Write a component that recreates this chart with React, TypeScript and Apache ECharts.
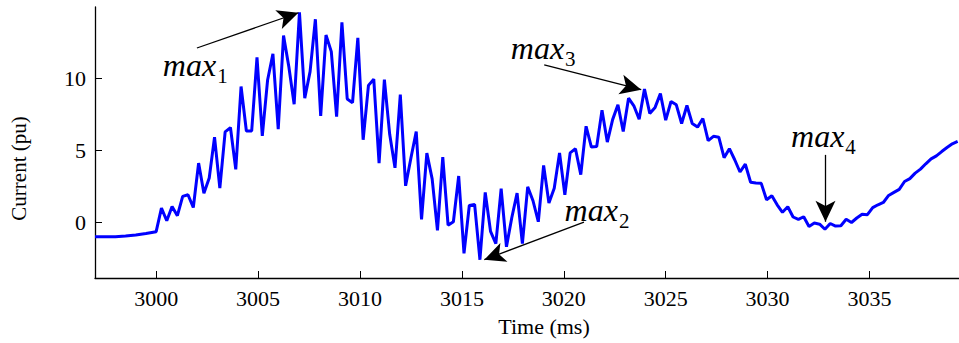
import React, { useEffect, useRef } from "react";
import * as echarts from "echarts";

// Sampling: 64 samples per 60 Hz cycle
const T0 = 3000;
const SAMPLE_MS = 1000 / 3840;

const preTimes = [2997, 2997.5, 2998, 2998.5, 2999, 2999.5];
const preValues = [-1.02, -1.03, -1.02, -0.97, -0.9, -0.8];

const current = [
  -0.67, 0.97, 0.09, 1.08, 0.44, 1.78, 1.9, 1.01, 4.1, 2.0,
  3.06, 5.9, 2.36, 6.27, 6.57, 3.66, 9.42, 6.33, 6.33, 11.45,
  5.99, 9.88, 11.69, 6.46, 12.96, 10.8, 8.19, 14.58, 8.61, 10.46,
  14.1, 7.38, 13.0, 11.85, 7.33, 13.89, 8.56, 8.3, 12.8, 5.72,
  9.5, 9.93, 4.1, 9.9, 6.1, 3.77, 8.86, 2.52, 4.45, 6.29,
  0.18, 4.79, 3.0, -0.58, 4.51, -0.22, 0.02, 3.2, -2.18, 1.15,
  1.23, -2.62, 2.06, -0.65, -1.5, 2.33, -1.72, 0.3, 2.01, -1.5,
  2.45, 1.48, 0.02, 3.94, 1.32, 2.35, 4.81, 1.9, 4.81, 5.1,
  3.3, 6.66, 5.21, 5.25, 7.78, 5.56, 7.12, 8.15, 6.29, 8.61,
  8.08, 7.15, 9.24, 7.55, 7.97, 8.93, 7.08, 8.38, 8.15, 6.85,
  8.1, 6.85, 6.6, 7.2, 5.66, 5.96, 5.9, 4.47, 5.1, 4.33,
  3.48, 4.02, 2.77, 2.72, 2.69, 1.55, 1.83, 1.2, 0.68, 1.06,
  0.35, 0.18, 0.37, -0.31, -0.07, -0.15, -0.5, -0.1, -0.28, -0.26,
  0.19, -0.03, 0.28, 0.54, 0.51, 1.0, 1.2, 1.36, 1.85, 2.06,
  2.27, 2.82, 3.02, 3.4, 3.68, 4.05, 4.39, 4.6, 4.9, 5.18,
  5.44, 5.6,
];

const xTicks = [3000, 3005, 3010, 3015, 3020, 3025, 3030, 3035];
const yTicks = [0, 5, 10];
const xRange = [2997.0, 3039.39];
const yRange = [-3.89, 14.95];

const annLabels = ["1", "2", "3", "4"];
const annTextPos = [
  [3001.92, 10.95],
  [3021.63, 0.85],
  [3018.99, 12.1],
  [3032.74, 6.0],
];
const annTail = [
  [3002.0, 12.1],
  [3020.99, 0.0],
  [3019.04, 10.93],
  [3032.84, 4.67],
];
const annTip = [
  [3006.98, 14.55],
  [3016.1, -2.62],
  [3023.8, 9.2],
  [3032.84, 0.02],
];

const FONT = "Liberation Serif";

export default function App() {
  const ref = useRef<HTMLDivElement>(null);
  useEffect(() => {
    if (!ref.current) return;
    const chart = echarts.init(ref.current, null, { renderer: "svg" });
    const lineData: number[][] = [];
    preTimes.forEach((t, i) => lineData.push([t, preValues[i]]));
    current.forEach((v, k) => lineData.push([T0 + k * SAMPLE_MS, v]));

    chart.setOption({
      animation: false,
      grid: { left: 93, right: 0, top: 7, bottom: 65, containLabel: false },
      xAxis: {
        type: "value",
        min: xRange[0],
        max: xRange[1],
        name: "Time (ms)",
        nameLocation: "middle",
        nameGap: 37,
        nameTextStyle: { fontFamily: FONT, fontSize: 22, color: "#000", padding: [0, 0, 0, 34] },
        axisLine: { show: true, onZero: false, lineStyle: { color: "#000", width: 1.3 } },
        axisTick: { show: true, inside: true, length: 7, lineStyle: { color: "#000", width: 1 }, customValues: xTicks },
        axisLabel: {
          fontFamily: FONT, fontSize: 22, color: "#000", margin: 9, customValues: xTicks,
          formatter: (v: number) => String(v),
        },
        splitLine: { show: false },
      },
      yAxis: {
        type: "value",
        min: yRange[0],
        max: yRange[1],
        name: "Current (pu)",
        nameLocation: "middle",
        nameGap: 66,
        nameRotate: 90,
        nameTextStyle: { fontFamily: FONT, fontSize: 21, color: "#000", padding: [0, 52, 0, 0] },
        axisLine: { show: true, onZero: false, lineStyle: { color: "#000", width: 1.3 } },
        axisTick: { show: true, inside: true, length: 7, lineStyle: { color: "#000", width: 1 }, customValues: yTicks },
        axisLabel: {
          fontFamily: FONT, fontSize: 22, color: "#000", margin: 9, customValues: yTicks,
          formatter: (v: number) => String(v),
        },
        splitLine: { show: false },
      },
      series: [
        {
          type: "line",
          data: lineData,
          showSymbol: false,
          symbol: "none",
          lineStyle: { color: "#0000ff", width: 3 },
          markLine: {
            silent: true,
            animation: false,
            label: { show: false },
            lineStyle: { color: "#000", width: 1.3, type: "solid" },
            data: annTail.map((tail, i) => [
              { coord: tail, symbol: "none" },
              { coord: annTip[i], symbol: "arrow", symbolSize: [15, 21] },
            ]),
          },
        },
        {
          type: "scatter",
          symbolSize: 1,
          itemStyle: { color: "rgba(0,0,0,0)" },
          silent: true,
          data: annTextPos.map((p, i) => ({ value: p, name: annLabels[i] })),
          label: {
            show: true,
            position: "inside",
            color: "#000",
            opacity: 1,
            textBorderWidth: 0,
            formatter: (p: any) => `{m|max}{s|${p.name}}`,
            rich: {
              m: { fontFamily: FONT, fontStyle: "italic", fontSize: 32, color: "#000", textBorderWidth: 0 },
              s: {
                fontFamily: FONT, fontSize: 21, color: "#000", textBorderWidth: 0,
                verticalAlign: "bottom", padding: [0, 0, -6, 1],
              },
            },
          },
        },
      ],
    });
    return () => chart.dispose();
  }, []);
  return (
    <div
      ref={ref}
      style={{ position: "fixed", left: 0, top: 0, width: 959, height: 343, background: "#fff" }}
    />
  );
}
